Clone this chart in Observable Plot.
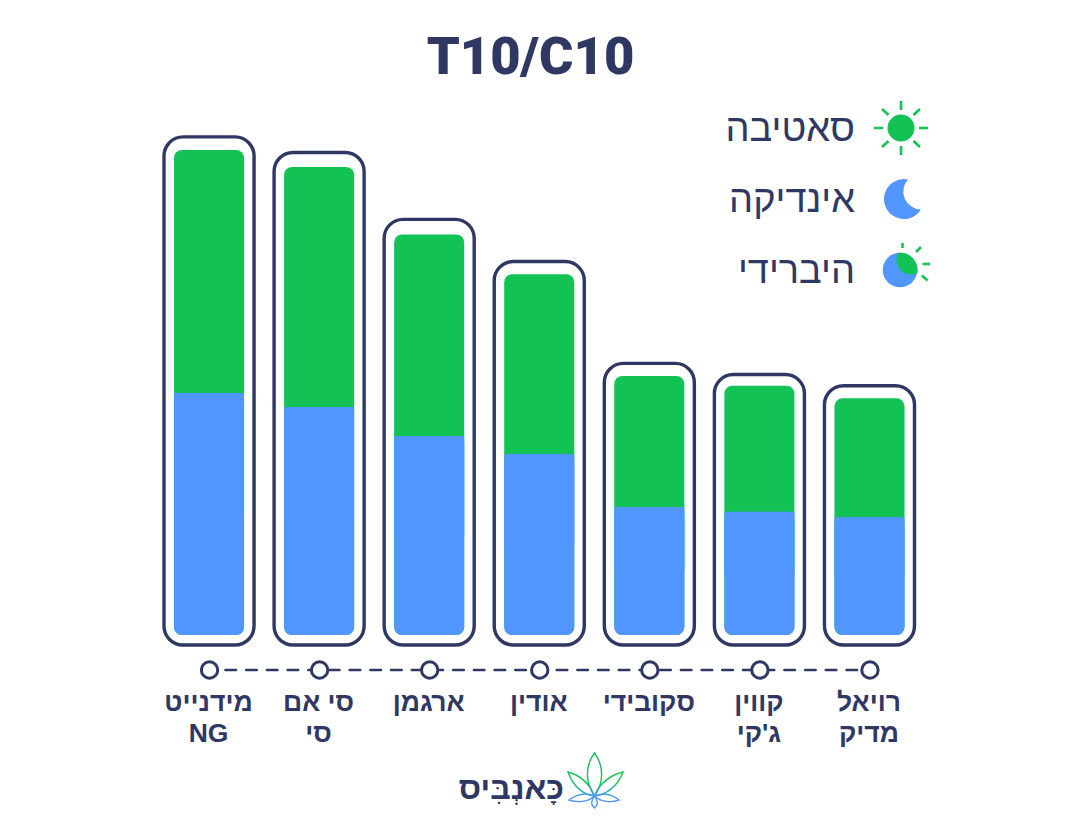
<!DOCTYPE html>
<html lang="he">
<head>
<meta charset="utf-8">
<script src="https://cdn.jsdelivr.net/npm/d3@7"></script>
<script src="https://cdn.jsdelivr.net/npm/@observablehq/plot@0.6"></script>
<style>
html,body{margin:0;padding:0;background:#fff;width:1080px;height:824px;overflow:hidden}
body{position:relative;font-family:"Liberation Sans",Roboto,sans-serif;color:#2f3763}
#title{position:absolute;left:0;top:0;width:1061px;height:105px;margin:0;text-align:center;font:900 52.500px/112px Roboto,sans-serif;color:#2f3763}
#chart{position:absolute;left:0;top:105px}
.leg{position:absolute;right:225px;font:400 38px/44px "Liberation Sans",sans-serif;direction:rtl;white-space:nowrap;color:#2f3763}
#icons,#leaf{position:absolute;left:0;top:0;pointer-events:none}
#brand{position:absolute;right:516px;top:766px;font:700 32px/44px "Liberation Sans",sans-serif;direction:rtl;color:#2f3763;white-space:nowrap}
</style>
</head>
<body>
<h1 id="title">T10/C10</h1>
<div id="chart"></div>
<div class="leg" style="top:106px">סאטיבה</div>
<div class="leg" style="top:177px">אינדיקה</div>
<div class="leg" style="top:248px">היברידי</div>
<svg id="icons" width="1080" height="824">
  <g stroke="#12c254" stroke-width="2.600" stroke-linecap="butt">
    <path d="M901 101V110M901 146V155M874 128H883M919 128H928M882 109L888.500 115M913.500 141L920 147M920 109L913.500 115M888.500 141L882 147"/>
    <path d="M902.500 243V248M916 252L921 247M922.500 264H930M922 275.500L927.500 280.500"/>
  </g>
  <circle cx="901" cy="128" r="13.500" fill="#12c254"/>
  <path d="M908 179.400A20 20 0 1 0 921 209.500A18 18 0 0 1 908 179.400Z" fill="#5196ff"/>
  <circle cx="900" cy="270" r="17.300" fill="#5196ff"/>
  <path d="M898.300 252.800A17.300 17.300 0 0 1 917.300 273A14.500 14.500 0 0 1 898.300 252.800Z" fill="#12c254"/>
</svg>
<div id="brand">כָּאנְבִּיס</div>
<svg id="leaf" width="1080" height="824">
  <defs><linearGradient id="lg" gradientUnits="userSpaceOnUse" x1="0" y1="753" x2="0" y2="808">
    <stop offset="0.55" stop-color="#12c254"/><stop offset="0.8" stop-color="#5196ff"/>
  </linearGradient></defs>
  <g fill="none" stroke="url(#lg)" stroke-width="1.400">
    <path d="M594.500 753C585 766 585 782 594.500 796C604 782 604 766 594.500 753Z"/>
    <path d="M568 772C573 786 583 795 594.500 796C590 784 580 775 568 772Z"/>
    <path d="M623 772C618 786 606 795 594.500 796C599 784 610 775 623 772Z"/>
    <path d="M569 800C578 793 588 793 594.500 796C588 802 578 803 569 800Z"/>
    <path d="M619 800C611 793 601 793 594.500 796C601 802 611 803 619 800Z"/>
    <path d="M594.500 796C590 802 592 806 594.500 808C597 806 599 802 594.500 796Z"/>
  </g>
</svg>
<script>
const strains = ["מידנייט\nNG", "סי אם\nסי", "ארגמן", "אודין", "סקובידי", "קווין\nג'קי", "רויאל\nמדיק"];
const indica = [49.9, 47.0, 41.0, 37.3, 26.4, 25.4, 24.3];
const sativa = [50.1, 49.5, 41.6, 37.1, 27.0, 26.0, 24.5];
const casing = [102.7, 99.5, 85.7, 77.0, 56.0, 53.7, 51.4];

const rows = strains.map((name, i) => ({name, indica: indica[i], total: indica[i] + sativa[i], casing: casing[i]}));
const navy = "#2f3763", green = "#12c254", blue = "#5196ff";

const plot = Plot.plot({
  width: 1080,
  height: 650,
  marginTop: 45,
  marginBottom: 120,
  marginLeft: 174,
  marginRight: 175.5,
  x: {type: "band", domain: strains, paddingInner: 0.3636, paddingOuter: 0, round: false, axis: null},
  y: {domain: [0, 100], axis: null},
  marks: [
    Plot.barY(rows, {x: "name", y: "total", fill: green, rx: 8}),
    Plot.barY(rows, {x: "name", y: "indica", fill: blue, rx: 8}),
    Plot.barY(rows, {x: "name", y1: d => d.indica / 2, y2: "indica", fill: blue}),
    Plot.barY(rows, {x: "name", y: "casing", fill: "none", stroke: navy, strokeWidth: 3.4, rx: 19,
      insetLeft: -10, insetRight: -10, insetBottom: -10}),
    Plot.line(rows, {x: "name", y: () => 0, dy: 34.500, stroke: navy, strokeWidth: 2.6,
      strokeDasharray: "10.500 10.200", strokeDashoffset: 4.700}),
    Plot.dot(rows, {x: "name", y: () => 0, dy: 34.500, r: 8.200, fill: "white", stroke: navy, strokeWidth: 3}),
    Plot.text(rows, {x: "name", y: () => 0, text: "name", dx: -1, dy: 54, lineAnchor: "top", lineHeight: 1.150,
      fontSize: 26.5, fontWeight: 700, fill: navy, fontFamily: "'Liberation Sans',Roboto,sans-serif"})
  ]
});
document.getElementById("chart").append(plot);
</script>
</body>
</html>
